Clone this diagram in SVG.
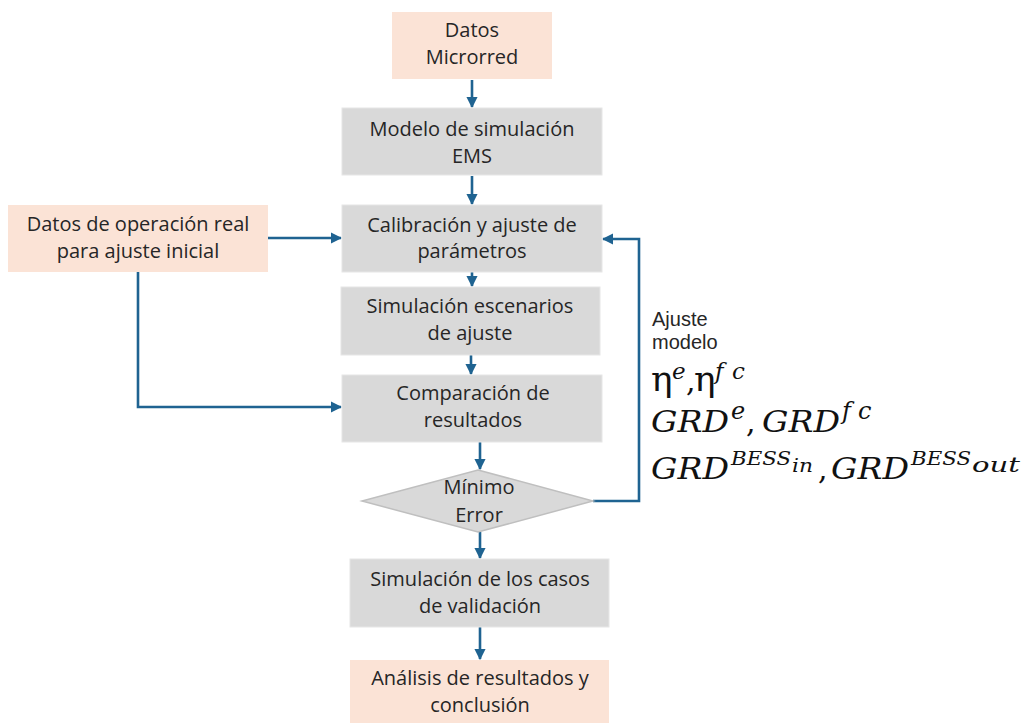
<svg xmlns="http://www.w3.org/2000/svg" width="1027" height="723" viewBox="0 0 1027 723">
  <defs>
    <marker id="arrow" viewBox="0 0 10 10" refX="9" refY="5" markerWidth="4.4" markerHeight="4.4" markerUnits="strokeWidth" orient="auto">
      <path d="M0,0 L10,5 L0,10 Z" fill="#1f6391"/>
    </marker>
  </defs>
  <style>
    .pink { fill: #fbe3d6; }
    .grey { fill: #d9d9d9; stroke: #e6e6e6; stroke-width: 1; }
    .dia { fill: #d9d9d9; stroke: #bfbfbf; stroke-width: 1.5; }
    .lbl { font-family: "Open Sans", "Noto Sans", sans-serif; font-size: 20px; fill: #262626; text-anchor: middle; }
    .note { font-family: "Liberation Sans", Arial, sans-serif; font-size: 20px; fill: #262626; }
    .conn { fill: none; stroke: #1f6391; stroke-width: 2.6; }
    .m { font-family: "DejaVu Serif", "Liberation Serif", serif; fill: #111; }
    .mi { font-family: "DejaVu Serif", "Liberation Serif", serif; font-style: italic; fill: #111; }
    .it { font-style: italic; }
  </style>

  <rect width="1027" height="723" fill="#ffffff"/>

  <!-- connectors -->
  <g id="connectors">
    <line class="conn" x1="472" y1="80" x2="472" y2="107" marker-end="url(#arrow)"/>
    <line class="conn" x1="472" y1="176" x2="472" y2="204" marker-end="url(#arrow)"/>
    <line class="conn" x1="472" y1="272" x2="472" y2="286" marker-end="url(#arrow)"/>
    <line class="conn" x1="471" y1="355" x2="471" y2="374" marker-end="url(#arrow)"/>
    <line class="conn" x1="480" y1="442" x2="480" y2="469" marker-end="url(#arrow)"/>
    <line class="conn" x1="480" y1="532" x2="480" y2="558" marker-end="url(#arrow)"/>
    <line class="conn" x1="480" y1="627" x2="480" y2="659" marker-end="url(#arrow)"/>
    <line class="conn" x1="268" y1="238" x2="341" y2="238" marker-end="url(#arrow)"/>
    <polyline class="conn" points="138,272 138,407 341,407" marker-end="url(#arrow)"/>
    <polyline class="conn" points="593,501 639,501 639,239 603,239" marker-end="url(#arrow)"/>
  </g>

  <!-- nodes -->
  <g id="datos-microrred">
    <rect class="pink" x="392" y="12" width="160" height="67"/>
    <text class="lbl" x="472" y="37">Datos</text>
    <text class="lbl" x="472" y="64">Microrred</text>
  </g>

  <g id="modelo-ems">
    <rect class="grey" x="342" y="108" width="260" height="67"/>
    <text class="lbl" x="472" y="136">Modelo de simulación</text>
    <text class="lbl" x="472" y="163">EMS</text>
  </g>

  <g id="datos-operacion">
    <rect class="pink" x="8" y="205" width="260" height="67"/>
    <text class="lbl" x="138" y="231">Datos de operación real</text>
    <text class="lbl" x="138" y="258">para ajuste inicial</text>
  </g>

  <g id="calibracion">
    <rect class="grey" x="342" y="205" width="260" height="67"/>
    <text class="lbl" x="472" y="232">Calibración y ajuste de</text>
    <text class="lbl" x="472" y="258">parámetros</text>
  </g>

  <g id="simulacion-escenarios">
    <rect class="grey" x="341" y="287" width="259" height="68"/>
    <text class="lbl" x="470" y="313">Simulación escenarios</text>
    <text class="lbl" x="470" y="340">de ajuste</text>
  </g>

  <g id="comparacion">
    <rect class="grey" x="342" y="375" width="260" height="67"/>
    <text class="lbl" x="473" y="400">Comparación de</text>
    <text class="lbl" x="473" y="427">resultados</text>
  </g>

  <g id="minimo-error">
    <polygon class="dia" points="478,470 593,501 478,532 362,501"/>
    <text class="lbl" x="479" y="494">Mínimo</text>
    <text class="lbl" x="479" y="522">Error</text>
  </g>

  <g id="simulacion-validacion">
    <rect class="grey" x="350" y="559" width="259" height="68"/>
    <text class="lbl" x="480" y="586">Simulación de los casos</text>
    <text class="lbl" x="480" y="613">de validación</text>
  </g>

  <g id="analisis">
    <rect class="pink" x="350" y="660" width="259" height="63"/>
    <text class="lbl" x="480" y="685">Análisis de resultados y</text>
    <text class="lbl" x="480" y="712">conclusión</text>
  </g>

  <!-- feedback label with fitted parameters -->
  <g id="ajuste-modelo">
    <text class="note" x="652" y="326">Ajuste</text>
    <text class="note" x="652" y="349">modelo</text>

    <!-- efficiencies: one text run with raised exponents -->
    <text class="m" font-size="36"><tspan x="651" y="391">η</tspan><tspan class="it" x="672" y="379" font-size="23">e</tspan><tspan x="686" y="391" font-size="30">,</tspan><tspan x="694" y="391">η</tspan><tspan class="it" x="715" y="379" font-size="23">f</tspan><tspan class="it" x="732" y="379" font-size="23">c</tspan></text>

    <text class="mi" x="651" y="432" font-size="30" textLength="78" lengthAdjust="spacingAndGlyphs">GRD</text>
    <text class="mi" x="731" y="419" font-size="24">e</text>
    <text class="m" x="746" y="432" font-size="30">,</text>
    <text class="mi" x="762" y="432" font-size="30" textLength="78" lengthAdjust="spacingAndGlyphs">GRD</text>
    <text class="mi" x="842" y="419" font-size="24">f</text>
    <text class="mi" x="858" y="419" font-size="24">c</text>

    <text class="mi" x="651" y="479" font-size="30" textLength="78" lengthAdjust="spacingAndGlyphs">GRD</text>
    <text class="mi" x="731" y="465" font-size="19" textLength="60" lengthAdjust="spacingAndGlyphs">BESS</text>
    <text class="mi" x="792" y="472" font-size="19" textLength="21" lengthAdjust="spacingAndGlyphs">in</text>
    <text class="m" x="818" y="479" font-size="30">,</text>
    <text class="mi" x="831" y="479" font-size="30" textLength="78" lengthAdjust="spacingAndGlyphs">GRD</text>
    <text class="mi" x="911" y="465" font-size="19" textLength="60" lengthAdjust="spacingAndGlyphs">BESS</text>
    <text class="mi" x="972" y="472" font-size="20" textLength="48" lengthAdjust="spacingAndGlyphs">out</text>
  </g>
</svg>
